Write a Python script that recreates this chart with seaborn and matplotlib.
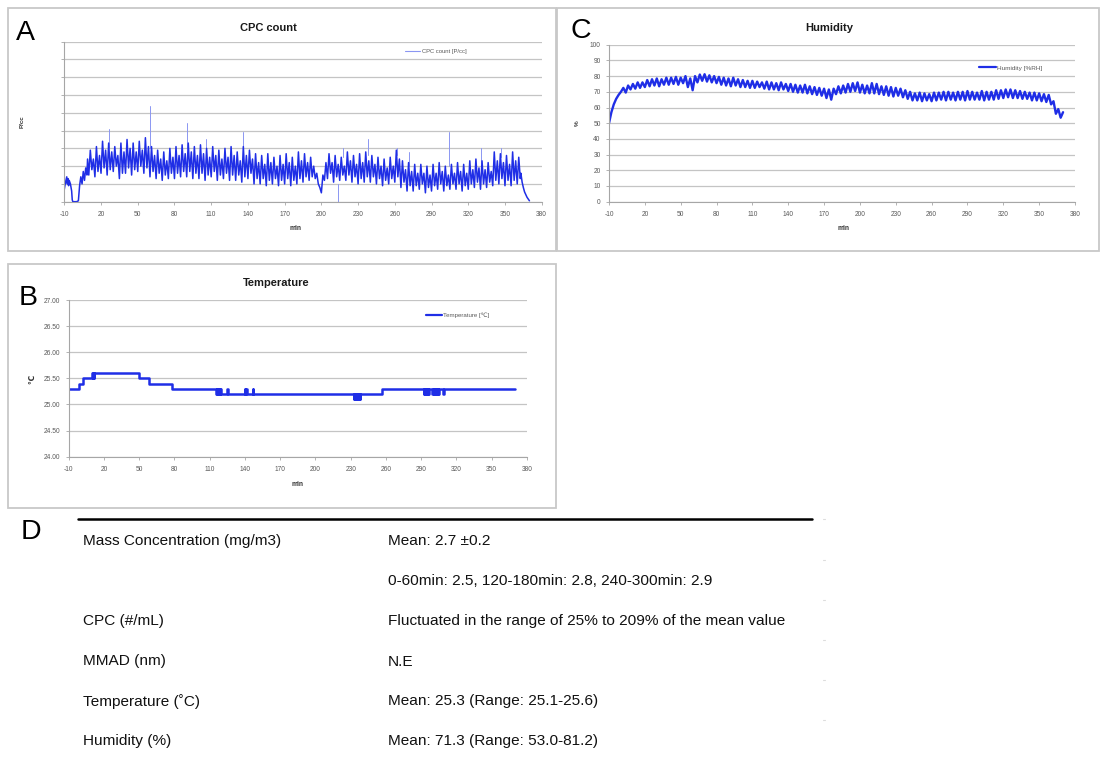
import numpy as np
import pandas as pd
import matplotlib
matplotlib.use("Agg")
import matplotlib.pyplot as plt
import seaborn as sns
from matplotlib.patches import Rectangle
from matplotlib.lines import Line2D
from matplotlib import font_manager

# ------------------------------------------------------------------ DATA
x_ticks = [-10, 20, 50, 80, 110, 140, 170, 200, 230, 260, 290, 320, 350, 380]

# CPC count (units of the unlabeled grid, 0..9)
cpc_start_t = [-10, -9, -8, -7.5, -7, -6.5, -6, -5, -4, -3.5, -3, 0, 1.5, 2.5,
               3.5, 4.5, 5.5, 6.5, 7.5, 8.5, 9]
cpc_start_v = [0.7, 1.1, 1.4, 1.0, 1.3, 0.9, 1.2, 1.0, 0.6, 0.1, 0.0, 0.0, 0.05, 0.9,
               1.4, 1.0, 1.7, 1.2, 1.9, 1.5, 2.4]
# sampled every 1.25 min from 10 to 362.5 min (one row = 10 min)
cpc_main_v = [
    1.5, 2.9, 1.8, 2.4, 1.4, 3.1, 1.7, 2.6,
    1.6, 3.4, 1.9, 2.9, 1.5, 3.3, 1.8, 2.8,
    1.7, 3.1, 2.0, 2.6, 1.3, 3.3, 1.6, 2.8,
    1.6, 3.5, 1.9, 3.0, 1.5, 3.3, 1.8, 2.8,
    1.7, 3.4, 2.0, 2.9, 1.6, 3.6, 1.9, 3.1,
    1.4, 3.1, 1.7, 2.6, 1.3, 2.9, 1.6, 2.4,
    1.2, 2.8, 1.5, 2.3, 1.3, 3.0, 1.6, 2.5,
    1.3, 3.1, 1.6, 2.6, 1.4, 3.2, 1.7, 2.7,
    1.4, 3.3, 1.7, 2.8, 1.3, 3.1, 1.6, 2.6,
    1.3, 3.2, 1.6, 2.7, 1.2, 3.0, 1.5, 2.5,
    1.4, 3.1, 1.7, 2.6, 1.2, 2.9, 1.5, 2.4,
    1.3, 3.0, 1.6, 2.5, 1.2, 3.1, 1.5, 2.6,
    1.2, 2.8, 1.5, 2.3, 1.1, 3.1, 1.4, 2.6,
    1.3, 2.9, 1.6, 2.4, 1.0, 2.7, 1.3, 2.2,
    1.0, 2.6, 1.3, 2.1, 0.9, 2.7, 1.2, 2.2,
    1.0, 2.5, 1.3, 2.0, 0.9, 2.6, 1.2, 2.1,
    1.0, 2.7, 1.3, 2.2, 0.9, 2.5, 1.2, 2.0,
    1.0, 2.8, 1.3, 2.3, 1.1, 2.7, 1.4, 2.2,
    1.2, 2.5, 1.4, 2.0, 1.3, 1.6, 1.0, 0.8,
    0.5, 1.5, 1.2, 2.2, 1.3, 2.7, 1.6, 2.2,
    1.1, 2.6, 1.4, 2.1, 1.2, 2.5, 1.5, 2.0,
    1.2, 2.8, 1.5, 2.3, 1.1, 2.6, 1.4, 2.1,
    1.0, 2.7, 1.3, 2.2, 1.1, 2.8, 1.4, 2.3,
    1.1, 2.6, 1.4, 2.1, 1.0, 2.5, 1.3, 2.0,
    0.9, 2.4, 1.2, 1.9, 1.0, 2.5, 1.3, 2.0,
    1.1, 2.9, 1.4, 2.4, 0.8, 2.3, 1.1, 1.8,
    0.6, 2.2, 0.9, 1.7, 0.6, 2.1, 0.9, 1.6,
    0.7, 2.1, 1.0, 1.6, 0.5, 2.0, 0.8, 1.5,
    0.6, 2.1, 0.9, 1.6, 0.7, 2.2, 1.0, 1.7,
    0.6, 2.0, 0.9, 1.5, 0.7, 2.1, 1.0, 1.6,
    0.7, 2.2, 1.0, 1.7, 0.6, 2.1, 0.9, 1.6,
    0.7, 2.3, 1.0, 1.8, 0.8, 2.4, 1.1, 1.9,
    0.7, 2.3, 1.0, 1.8, 0.8, 2.2, 1.1, 1.7,
    0.9, 2.8, 1.2, 2.3, 1.0, 2.7, 1.3, 2.2,
    0.9, 2.6, 1.2, 2.1, 0.9, 2.8, 1.2, 2.3,
    1.0, 2.5, 1.3,
]
cpc_tail_t = [363, 364, 365, 366, 367, 368, 369, 370]
cpc_tail_v = [1.6, 1.1, 0.8, 0.55, 0.4, 0.25, 0.15, 0.05]
spike_t = [26.5, 60.1, 90, 105.5, 136, 213.6, 218, 238, 262, 272, 304, 330.5, 347]
spike_base = [3.0, 3.0, 3.0, 2.8, 2.8, 1.0, 2.5, 2.6, 2.6, 2.0, 2.0, 2.2, 2.5]
spike_top = [4.1, 5.4, 4.4, 3.5, 3.9, 0.0, 3.0, 3.5, 3.0, 2.8, 3.9, 3.0, 3.0]

# Humidity [%RH], sampled every 2 min from -10 to 370
hum_v = [
    50, 57, 62, 65.5, 68,
    70, 72.5, 69.5, 74, 71.5, 75, 72, 76, 72.5, 76,
    73, 77.5, 73.5, 78, 74, 78.5, 73.5, 78, 74.5, 79,
    74.5, 79, 75, 79.5, 74.5, 79, 75.5, 80, 73, 78.5,
    71, 80, 76, 81, 77, 81.2, 76.5, 80.5, 76, 80,
    75.5, 79.5, 74.5, 79, 74, 78.5, 73.5, 79, 74, 78,
    73, 77.5, 73, 77, 72.5, 77, 72.5, 76.5, 73, 76,
    72, 76.5, 71.5, 76, 71.5, 75.5, 71, 76, 71.5, 75,
    70.5, 75, 70, 74.5, 69.5, 74, 69.5, 74.5, 69, 73.5,
    68.5, 73, 68, 72.5, 67.5, 72, 66, 71.5, 65, 72,
    68.5, 73.5, 69, 74, 69.5, 75, 70, 75.5, 70.5, 76,
    69.5, 74.5, 69, 74, 69, 75.5, 69, 75, 68.5, 73.5,
    68, 73.5, 67.5, 73, 67, 72.5, 67.5, 72, 66.5, 71,
    65.5, 70, 64.5, 69, 64.5, 69.5, 64, 69, 64.5, 68.5,
    64, 69.5, 64.5, 69.5, 65, 70, 64.5, 70, 65, 69.5,
    64.5, 70, 65, 70, 64.5, 70.5, 65, 70, 65, 69.5,
    65, 70.5, 64.5, 70, 65, 70, 65, 71, 65.5, 71,
    66, 71.5, 66.5, 71.5, 66, 71, 66, 70.5, 65.5, 70,
    65.5, 69.5, 64.5, 69.5, 64.5, 69, 64, 68.5, 63.5, 68,
    62, 64, 56, 59, 53.5, 57,
]

# Temperature [C], step points
temp_t = [-10, -1.5, 2, 10, 10.5, 11, 11.5, 12, 12.5, 50, 58.5, 78,
          115.5, 116, 116.5, 117, 117.5, 118, 118.5, 119, 119.5,
          124.5, 125.2,
          140, 140.5, 141, 141.5, 142,
          146.5, 147.2,
          232.5, 233, 233.5, 234, 234.5, 235, 235.5, 236, 236.5, 237, 237.5, 238, 238.5,
          256.5,
          292, 292.5, 293, 293.5, 294, 294.5, 295, 295.5, 296, 296.5, 297,
          299.5, 300, 300.5, 301, 301.5, 302, 302.5, 303, 303.5, 304, 304.5, 305, 305.5,
          308.5, 309.2, 370]
temp_v = [25.3, 25.4, 25.5, 25.6, 25.5, 25.6, 25.5, 25.6, 25.6, 25.5, 25.4, 25.3,
          25.2, 25.3, 25.2, 25.3, 25.2, 25.3, 25.2, 25.3, 25.2,
          25.3, 25.2,
          25.3, 25.2, 25.3, 25.2, 25.2,
          25.3, 25.2,
          25.1, 25.2, 25.1, 25.2, 25.1, 25.2, 25.1, 25.2, 25.1, 25.2, 25.1, 25.2, 25.2,
          25.3,
          25.2, 25.3, 25.2, 25.3, 25.2, 25.3, 25.2, 25.3, 25.2, 25.3, 25.3,
          25.2, 25.3, 25.2, 25.3, 25.2, 25.3, 25.2, 25.3, 25.2, 25.3, 25.2, 25.3, 25.3,
          25.2, 25.3, 25.3]

table_labels = ["Mass Concentration (mg/m3)", "", "CPC (#/mL)", "MMAD (nm)",
                "Temperature (\u02daC)", "Humidity (%)"]
table_values = ["Mean: 2.7 \u00b10.2",
                "0-60min: 2.5, 120-180min: 2.8, 240-300min: 2.9",
                "Fluctuated in the range of 25% to 209% of the mean value",
                "N.E",
                "Mean: 25.3 (Range: 25.1-25.6)",
                "Mean: 71.3 (Range: 53.0-81.2)"]

# ------------------------------------------------------------------ STYLE
sns.set_theme(style="white")
avail = {f.name for f in font_manager.fontManager.ttflist}
base_font = "Liberation Sans" if "Liberation Sans" in avail else "DejaVu Sans"
narrow_font = "Liberation Sans Narrow" if "Liberation Sans Narrow" in avail else base_font
table_size = 12.3 if narrow_font != base_font else 11.1
plt.rcParams["font.family"] = [base_font, "DejaVu Sans"]

W, H = 1100, 758
fig = plt.figure(figsize=(W / 100, H / 100), dpi=100)
fig.patch.set_facecolor("white")


def fx(px):
    return px / W


def fy(py):
    return 1 - py / H


BLUE = "#1f2ee6"
LIGHT = "#8b96f2"
GRID = "#c4c4c4"
AXC = "#a6a6a6"
TICKC = "#595959"

# panel boxes
for (x0, y0, x1, y1) in [(7.5, 7.5, 556.5, 251.5), (556.5, 7.5, 1099, 251.5),
                         (8, 264, 556, 508)]:
    fig.patches.append(Rectangle((fx(x0), fy(y1)), fx(x1) - fx(x0), fy(y0) - fy(y1),
                                 transform=fig.transFigure, fill=False,
                                 edgecolor="#c8c8c8", lw=1.3))


def make_axes(x0, y0, x1, y1):
    return fig.add_axes([fx(x0), fy(y1), (x1 - x0) / W, (y1 - y0) / H])


def style(ax, yticks, ylim, ylabels=None):
    ax.set_xlim(-10, 380)
    ax.set_xticks(x_ticks)
    ax.set_xticklabels([str(t) for t in x_ticks])
    ax.set_ylim(*ylim)
    ax.set_yticks(yticks)
    if ylabels is None:
        ax.set_yticklabels([""] * len(yticks))
    else:
        ax.set_yticklabels(ylabels)
    ax.yaxis.grid(True, color=GRID, lw=0.9)
    ax.xaxis.grid(False)
    ax.set_axisbelow(True)
    for s in ["top", "right"]:
        ax.spines[s].set_visible(False)
    for s in ["left", "bottom"]:
        ax.spines[s].set_color(AXC)
        ax.spines[s].set_linewidth(0.8)
    ax.tick_params(axis="both", length=2.5, width=0.6, color=AXC, labelsize=4.8,
                   labelcolor=TICKC, pad=3.5)
    ax.tick_params(axis="x", bottom=True, pad=4.5)
    ax.tick_params(axis="y", left=True)
    ax.set_xlabel("")
    ax.set_ylabel("")
    ax.set_facecolor("white")


# ---------------- Panel A : CPC count
axA = make_axes(64.3, 41.7, 541.7, 201.7)
cpc_main_t = np.arange(len(cpc_main_v)) * 1.25 + 10
cpc_df = pd.DataFrame({
    "min": np.concatenate([cpc_start_t, cpc_main_t, cpc_tail_t]),
    "cpc": np.concatenate([cpc_start_v, cpc_main_v, cpc_tail_v]),
})
for t, b, v in zip(spike_t, spike_base, spike_top):
    sns.lineplot(x=[t, t], y=[b, v], ax=axA, color=LIGHT, lw=0.7,
                 estimator=None, sort=False, legend=False)
sns.lineplot(data=cpc_df, x="min", y="cpc", ax=axA, color=BLUE, lw=1.1,
             estimator=None, sort=False, legend=False)
style(axA, list(range(10)), (0, 9))
axA.legend(handles=[Line2D([0], [0], color=LIGHT, lw=0.8)], labels=["CPC count [P/cc]"],
           loc="center left", bbox_to_anchor=(fx(405), fy(51.7)),
           bbox_transform=fig.transFigure, frameon=False, fontsize=4.2,
           handlelength=2.6, handletextpad=0.3, borderpad=0, borderaxespad=0,
           labelcolor=TICKC)

# ---------------- Panel C : Humidity
axC = make_axes(609, 44.7, 1075, 201.7)
hum_t = np.arange(len(hum_v)) * 2 - 10
hum_df = pd.DataFrame({"min": hum_t, "hum": hum_v})
sns.lineplot(data=hum_df, x="min", y="hum", ax=axC, color=BLUE, lw=1.7,
             estimator=None, sort=False, legend=False)
style(axC, list(range(0, 101, 10)), (0, 100), [str(v) for v in range(0, 101, 10)])
axC.legend(handles=[Line2D([0], [0], color=BLUE, lw=1.6)], labels=["Humidity [%RH]"],
           loc="center left", bbox_to_anchor=(fx(979), fy(68)),
           bbox_transform=fig.transFigure, frameon=False, fontsize=4.6,
           handlelength=2.6, handletextpad=0.25, borderpad=0, borderaxespad=0,
           labelcolor=TICKC)

# ---------------- Panel B : Temperature
axB = make_axes(68.6, 300, 527, 456.7)
temp_df = pd.DataFrame({"min": temp_t, "temp": temp_v})
sns.lineplot(data=temp_df, x="min", y="temp", ax=axB, color=BLUE, lw=1.8,
             estimator=None, sort=False, legend=False, drawstyle="steps-post")
tyt = [24.0, 24.5, 25.0, 25.5, 26.0, 26.5, 27.0]
style(axB, tyt, (24, 27), ["%.2f" % v for v in tyt])
axB.legend(handles=[Line2D([0], [0], color=BLUE, lw=1.6)], labels=["Temperature [\u2103]"],
           loc="center left", bbox_to_anchor=(fx(426), fy(315)),
           bbox_transform=fig.transFigure, frameon=False, fontsize=4.4,
           handlelength=2.6, handletextpad=0.25, borderpad=0, borderaxespad=0,
           labelcolor=TICKC)

# ---------------- titles / labels / letters
def ftext(px, py, s, **kw):
    fig.text(fx(px), fy(py), s, **kw)


for px, py, s in [(268, 28, "CPC count"), (829, 28, "Humidity"), (276, 283, "Temperature")]:
    ftext(px, py, s, ha="center", va="center", fontsize=8, fontweight="bold", color="#1a1a1a")

for px, py in [(296, 228), (843, 228), (298, 484)]:
    ftext(px, py, "min", ha="center", va="center", fontsize=4.8, fontweight="bold", color="#333333")

ftext(22, 122, "P/cc", ha="center", va="center", fontsize=4.4, fontweight="bold", rotation=90, color="#333333")
ftext(577, 123, "%", ha="center", va="center", fontsize=4.6, fontweight="bold", rotation=90, color="#333333")
ftext(32, 379, "\u2103", ha="center", va="center", fontsize=5.5, fontweight="bold", rotation=90,
      color="#333333", family=["DejaVu Sans"])

for lab, px, py in [("A", 25.5, 33), ("C", 581, 31), ("B", 28.5, 298), ("D", 31, 532)]:
    ftext(px, py, lab, ha="center", va="center", fontsize=20.5, color="black")

# ---------------- Panel D : table
fig.add_artist(Line2D([fx(78), fx(812)], [fy(519), fy(519)], transform=fig.transFigure,
                      color="black", lw=1.8))
row_y = [541, 581, 621.5, 661.5, 701.5, 741.5]
for lab, val, py in zip(table_labels, table_values, row_y):
    if lab:
        ftext(83, py, lab, ha="left", va="center", fontsize=table_size,
              family=[narrow_font, "DejaVu Sans"], color="#111111")
    ftext(388, py, val, ha="left", va="center", fontsize=table_size,
          family=[narrow_font, "DejaVu Sans"], color="#111111")
for py in [519, 560, 600, 640, 680, 720]:
    fig.add_artist(Line2D([fx(823), fx(825)], [fy(py), fy(py)], transform=fig.transFigure,
                          color="#dddddd", lw=0.8))

fig.savefig("out.png", dpi=100, facecolor="white")
